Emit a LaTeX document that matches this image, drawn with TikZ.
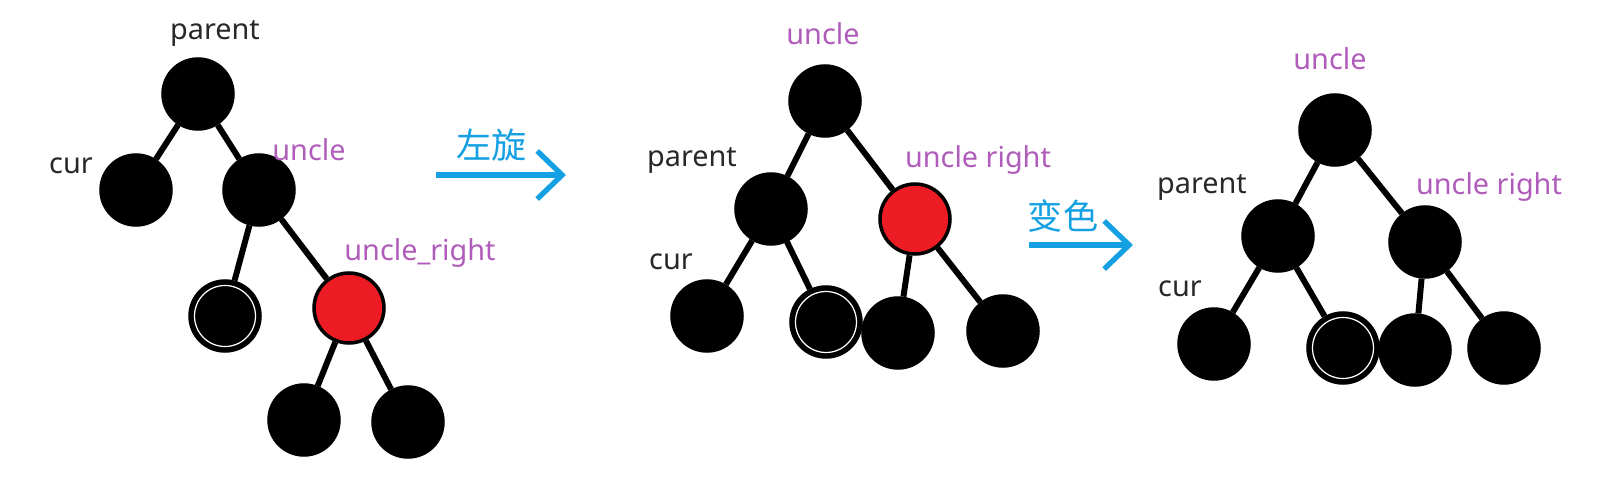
\documentclass[tikz,border=0pt]{standalone}
\usepackage{fontspec}
\setmainfont{Noto Sans}
\newfontfamily\cjk{Noto Sans CJK SC}
\usetikzlibrary{arrows.meta}
\definecolor{rbred}{RGB}{237,28,36}
\definecolor{lblpurple}{RGB}{176,92,186}
\definecolor{lblgray}{RGB}{40,40,40}
\definecolor{arrblue}{RGB}{20,160,226}

\begin{document}
\begin{tikzpicture}[
    blk/.style={circle, fill=black, draw=black, line width=1pt, minimum size=0.70cm, inner sep=0pt},
    redn/.style={blk, fill=rbred},
    hol/.style={blk, path picture={\draw[white, line width=0.35pt] (path picture bounding box.center) circle (0.305);}},
    edge/.style={line width=1.7pt},
    lbl/.style={text=lblgray, font=\fontsize{8.2}{10}\selectfont},
    plbl/.style={lbl, text=lblpurple},
    arr/.style={arrblue, line width=1.5pt, -{Straight Barb[length=2.5mm, width=4.8mm, line width=1.5pt]}},
    arrtxt/.style={text=arrblue, font=\cjk\fontsize{10}{12}\selectfont}
  ]
  \useasboundingbox (0,0) rectangle (15.98,-4.82);

  % first tree
  \node[blk]  (p1)  at (1.98,-0.94) {};
  \node[blk]  (c1)  at (1.36,-1.90) {};
  \node[blk]  (u1)  at (2.59,-1.90) {};
  \node[hol]  (ul1) at (2.25,-3.16) {};
  \node[redn] (ur1) at (3.49,-3.08) {};
  \node[blk]  (a1)  at (3.04,-4.20) {};
  \node[blk]  (b1)  at (4.08,-4.22) {};
  \draw[edge] (p1) -- (c1);
  \draw[edge] (p1) -- (u1);
  \draw[edge] (u1) -- (ul1);
  \draw[edge] (u1) -- (ur1);
  \draw[edge] (ur1) -- (a1);
  \draw[edge] (ur1) -- (b1);
  \node[lbl]  (tp1) at (2.15,-0.33) {parent};
  \node[lbl]  (tc1) at (0.71,-1.66) {cur};
  \node[plbl] (tu1) at (3.09,-1.50) {uncle};
  \node[plbl] (tr1) at (4.20,-2.53) {uncle\_right};

  % rotate
  \coordinate (s1) at (4.36,-1.75);
  \coordinate (e1) at (5.66,-1.75);
  \draw[arr] (s1) -- (e1);
  \node[arrtxt] (rot) at (4.92,-1.45) {左旋};

  % second tree
  \node[blk]  (u2)  at (8.25,-1.01) {};
  \node[blk]  (p2)  at (7.71,-2.09) {};
  \node[redn] (ur2) at (9.15,-2.19) {};
  \node[blk]  (c2)  at (7.07,-3.16) {};
  \node[hol]  (ul2) at (8.26,-3.22) {};
  \node[blk]  (a2)  at (8.98,-3.33) {};
  \node[blk]  (b2)  at (10.03,-3.31) {};
  \draw[edge] (u2) -- (p2);
  \draw[edge] (u2) -- (ur2);
  \draw[edge] (p2) -- (c2);
  \draw[edge] (p2) -- (ul2);
  \draw[edge] (ur2) -- (a2);
  \draw[edge] (ur2) -- (b2);
  \node[plbl] (tu2) at (8.23,-0.34) {uncle};
  \node[lbl]  (tp2) at (6.92,-1.60) {parent};
  \node[plbl] (tr2) at (9.78,-1.60) {uncle right};
  \node[lbl]  (tc2) at (6.71,-2.62) {cur};

  % recolour
  \coordinate (s2) at (10.29,-2.45);
  \coordinate (e2) at (11.33,-2.45);
  \draw[arr] (s2) -- (e2);
  \node[arrtxt] (col) at (10.63,-2.16) {变色};

  % third tree
  \node[blk] (u3)  at (13.35,-1.30) {};
  \node[blk] (p3)  at (12.78,-2.36) {};
  \node[blk] (ur3) at (14.25,-2.42) {};
  \node[blk] (c3)  at (12.14,-3.44) {};
  \node[hol] (ul3) at (13.43,-3.48) {};
  \node[blk] (a3)  at (14.15,-3.50) {};
  \node[blk] (b3)  at (15.04,-3.48) {};
  \draw[edge] (u3) -- (p3);
  \draw[edge] (u3) -- (ur3);
  \draw[edge] (p3) -- (c3);
  \draw[edge] (p3) -- (ul3);
  \draw[edge] (ur3) -- (a3);
  \draw[edge] (ur3) -- (b3);
  \node[plbl] (tu3) at (13.30,-0.59) {uncle};
  \node[lbl]  (tp3) at (12.02,-1.87) {parent};
  \node[plbl] (tr3) at (14.89,-1.87) {uncle right};
  \node[lbl]  (tc3) at (11.80,-2.89) {cur};
\end{tikzpicture}
\end{document}
